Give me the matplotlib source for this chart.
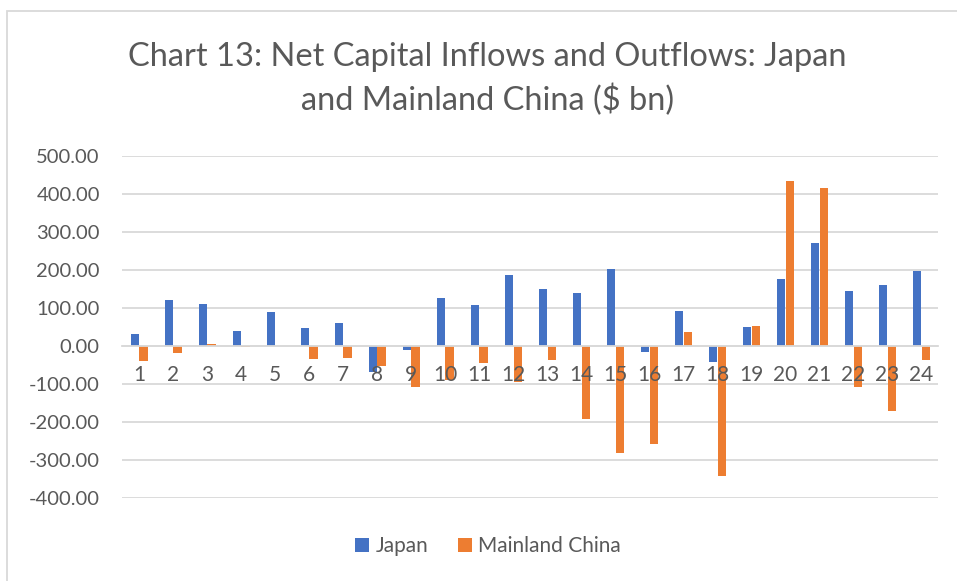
import numpy as np
import matplotlib
matplotlib.use('Agg')
import matplotlib.pyplot as plt
from matplotlib.patches import Rectangle

# values ($ bn)
periods = [str(i) for i in range(1, 25)]
japan = [31, 120, 111, 39, 89, 47, 60, -68, -10, 127, 107, 188,
         150, 140, 203, -17, 92, -41, 51, 176, 270, 144, 160, 197]
china = [-40, -19, 6, -4, 1, -35, -32, -53, -107, -89, -44, -95,
         -36, -193, -281, -259, 36, -341, 53, 433, 417, -109, -171, -36]
yticks = [500, 400, 300, 200, 100, 0, -100, -200, -300, -400]

blue = '#4472C4'
orange = '#ED7D31'
grey_txt = '#595959'
grid_col = '#D9D9D9'

plt.rcParams['font.family'] = ['Lato', 'DejaVu Sans']

fig = plt.figure(figsize=(9.57, 5.81), dpi=100)
ax = fig.add_axes([0.1275, 0.143, 0.853, 0.5885])

x = np.arange(len(periods))
w = 0.24
# gridlines behind the bars, tick labels on top (as in Excel)
for v in yticks:
    ax.axhline(v, color=grid_col, linewidth=1.3, zorder=0.5)
ax.bar(x - 0.13, japan, w, color=blue, label='Japan', zorder=1)
ax.bar(x + 0.13, china, w, color=orange, label='Mainland China', zorder=1)
ax.set_axisbelow(False)

ax.set_ylim(-400, 500)
ax.set_xlim(-0.5, len(periods) - 0.5)
ax.set_yticks(yticks)
ax.set_yticklabels([f'{v:.2f}' for v in yticks], fontsize=14.5, color=grey_txt)
ax.tick_params(axis='y', length=0, pad=16)

ax.spines['bottom'].set_position(('data', 0))
ax.spines['bottom'].set_color(grid_col)
ax.spines['bottom'].set_linewidth(1.3)
for s in ['top', 'right', 'left']:
    ax.spines[s].set_visible(False)
ax.set_xticks(x)
ax.set_xticklabels(periods, fontsize=15, color=grey_txt)
ax.tick_params(axis='x', length=0, pad=14)

fig.text(0.509, 0.864, 'Chart 13: Net Capital Inflows and Outflows: Japan\nand Mainland China ($ bn)',
         ha='center', va='center', fontsize=23.5, color=grey_txt, linespacing=1.42)

fig.legend(loc='lower center', bbox_to_anchor=(0.51, 0.01), ncol=2, frameon=False,
           fontsize=15, handlelength=0.7, handleheight=0.7, handletextpad=0.3,
           columnspacing=1.4, labelcolor=grey_txt)

# chart area border
fig.patches.append(Rectangle((0.007, -0.05), 1.2, 1.031, transform=fig.transFigure,
                             fill=False, edgecolor=grid_col, linewidth=1.3))

fig.savefig('out.png', dpi=100)
